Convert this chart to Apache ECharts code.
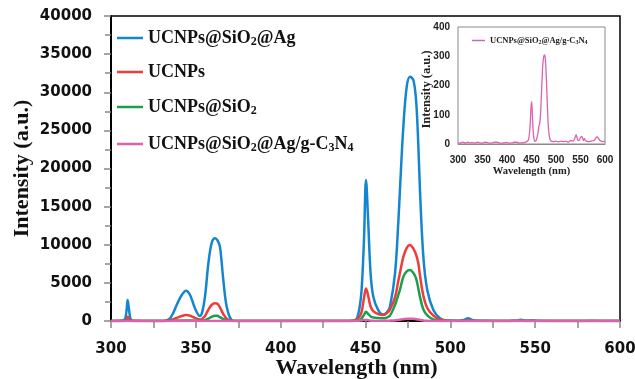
<!DOCTYPE html>
<html>
<head>
<meta charset="utf-8">
<script src="https://cdn.jsdelivr.net/npm/echarts@6/dist/echarts.min.js"></script>
<style>html,body{margin:0;padding:0;background:#fff;}#c{width:635px;height:379px;}</style>
</head>
<body>
<div id="c"></div>
<script>
// ---- data ----
const seriesNames = ['UCNPs@SiO2@Ag', 'UCNPs', 'UCNPs@SiO2', 'UCNPs@SiO2@Ag/g-C3N4'];
const seriesColors = ['#1486d0', '#ef3b3b', '#1c9e4e', '#dd62ad'];

const wavelength = [300,304,306.5,308.3,309.2,309.8,310.5,311.5,313,320,331,333,334.8,336.8,338.7,341.7,344.2,346.6,349.5,352.4,353.8,355.4,357.4,359.3,361.3,362.7,364.2,366.2,368.2,371.1,374,440,442.5,444.8,446.5,447.7,449.1,450.3,451.5,453,454.6,457.5,460.5,462.5,464.4,467.4,469.3,470.3,472.3,474.3,476.2,478.2,479.8,481.1,482.1,484.1,486.4,490,493.9,498,505,508,510.5,513,518,535,539,541.5,545,549,553,600];
const agValues = [0,0,60,250,1500,2750,1700,300,20,0,0,100,350,1100,2100,3410,3980,3410,1660,650,1200,3190,7570,10190,10850,10600,9750,5380,1880,130,0,0,40,300,1800,4070,10620,18500,13500,6250,3190,1440,850,1100,1880,6250,12800,17180,25480,30730,32040,31600,28980,23300,17180,8430,4070,1440,350,50,30,150,350,150,20,0,80,150,60,100,0,0];
const ucnpValues = [0,0,10,60,300,560,350,60,0,0,0,20,100,250,400,650,790,700,400,200,300,650,1500,2100,2320,2250,1800,900,300,30,0,0,20,200,600,1200,3000,4250,3400,1900,1300,900,780,1000,1500,3100,5200,6300,8400,9600,9970,9500,8700,7600,6000,3300,1700,700,200,30,10,30,60,20,0,0,0,20,0,0,0,0];
const sio2Values = [0,0,0,10,50,100,60,10,0,0,0,0,10,30,50,70,80,70,40,30,60,120,300,550,700,680,500,250,80,10,0,0,10,50,150,350,800,1200,950,600,450,380,350,450,700,2100,3400,4100,5800,6500,6690,6300,5600,4300,3200,1500,750,200,30,0,0,0,10,0,0,0,0,0,0,0,0,0];

const gcnWavelength = [300,305,310,315,320,325,330,335,340,345,350,355,360,365,370,375,380,385,390,395,400,405,410,415,420,425,430,435,440,444,447,449,450.5,452,454,456,458,460,463,465,467,469,471,473,475,476.5,478,480,482,484,486,488,490,495,500,505,510,515,520,525,530,535,538,541,544,547,550,553,556,558,561,566,572,578,581,584,587,590,595,600];
const gcnValues = [5,3,6,3,6,4,5,3,6,4,3,6,5,3,4,6,6,3,3,5,5,3,4,6,6,3,4,5,8,15,60,125,145,90,30,12,9,15,35,60,72,120,200,270,300,305,295,240,150,70,30,15,10,8,10,7,10,8,10,6,12,10,18,32,15,12,22,26,12,18,10,8,10,12,20,24,18,12,8,10];

const mainX = {min: 300, max: 600, interval: 50};
const mainY = {min: 0, max: 40000, interval: 5000};
const insetX = {min: 300, max: 600, interval: 50};
const insetY = {min: 0, max: 400, interval: 100};

// ---- helpers ----
function pairs(xs, ys) { return xs.map((x, i) => [x, ys[i]]); }
function richName(name) {
  return name.split(/(\d)/).filter(s => s.length).map(s => /\d/.test(s) ? '{s|' + s + '}' : '{n|' + s + '}').join('');
}
const serif = '"Liberation Serif", "Times New Roman", serif';
const sans = '"DejaVu Sans", Verdana, sans-serif';
const narrow = '"Liberation Sans Narrow", "Arial Narrow", "Liberation Sans", sans-serif';

const mainLegendTops = [29, 63, 98, 135];
const mainLegends = seriesNames.map((nm, i) => ({
  data: [nm], orient: 'vertical', left: 117, top: mainLegendTops[i], padding: 0,
  icon: 'rect', itemWidth: 26, itemHeight: 2.5, itemGap: 4, itemStyle: {borderWidth: 0},
  formatter: richName, selectedMode: false,
  textStyle: {
    rich: {
      n: {fontFamily: serif, fontWeight: 'bold', fontSize: 18, lineHeight: 20, color: '#111'},
      s: {fontFamily: serif, fontWeight: 'bold', fontSize: 12, lineHeight: 9, verticalAlign: 'bottom', color: '#111'}
    }
  }
}));

const chart = echarts.init(document.getElementById('c'), null, {renderer: 'canvas'});
const option = {
  animation: false,
  backgroundColor: '#fff',
  grid: [
    {left: 111, top: 16, width: 509, height: 305, outerBoundsMode: 'none', containLabel: false, show: true, borderColor: '#000', borderWidth: 1.5, backgroundColor: 'transparent'},
    {left: 458, top: 27, width: 147, height: 117, outerBoundsMode: 'none', containLabel: false, show: true, borderColor: '#8a8a8a', borderWidth: 1, backgroundColor: '#fff', z: 5}
  ],
  legend: mainLegends.concat([
    {
      data: [seriesNames[3]], orient: 'vertical', left: 472, top: 36, padding: 0, z: 10,
      icon: 'rect', itemWidth: 13, itemHeight: 1.5, itemGap: 2, itemStyle: {borderWidth: 0},
      formatter: richName, selectedMode: false,
      textStyle: {
        rich: {
          n: {fontFamily: serif, fontWeight: 'bold', fontSize: 8.5, lineHeight: 10, color: '#222'},
          s: {fontFamily: serif, fontWeight: 'bold', fontSize: 6, lineHeight: 4, verticalAlign: 'bottom', color: '#222'}
        }
      }
    }
  ]),
  xAxis: [
    {
      type: 'value', gridIndex: 0, min: mainX.min, max: mainX.max, interval: mainX.interval,
      name: 'Wavelength (nm)', nameLocation: 'middle', nameGap: 36, nameMoveOverlap: false,
      nameTextStyle: {fontFamily: serif, fontWeight: 'bold', fontSize: 22, color: '#111', padding: [0, 18, 0, 0]},
      axisLine: {show: true, lineStyle: {color: '#000', width: 2}},
      axisTick: {show: true, length: 7, lineStyle: {color: '#888', width: 1.5}},
      minorTick: {show: true, splitNumber: 2, length: 7, lineStyle: {color: '#888', width: 1.5}},
      splitLine: {show: false},
      axisLabel: {margin: 21, fontFamily: sans, fontWeight: 'bold', fontSize: 15, color: '#111', formatter: v => String(v)}
    },
    {
      type: 'value', gridIndex: 1, min: insetX.min, max: insetX.max, interval: insetX.interval,
      name: 'Wavelength (nm)', nameLocation: 'middle', nameGap: 22, nameMoveOverlap: false,
      nameTextStyle: {fontFamily: serif, fontWeight: 'bold', fontSize: 10.5, color: '#222'},
      axisLine: {show: true, lineStyle: {color: '#8a8a8a', width: 1}},
      axisTick: {show: false},
      splitLine: {show: false},
      axisLabel: {margin: 11, fontFamily: narrow, fontWeight: 'bold', fontSize: 10, color: '#222', formatter: v => String(v)}
    }
  ],
  yAxis: [
    {
      type: 'value', gridIndex: 0, min: mainY.min, max: mainY.max, interval: mainY.interval,
      name: 'Intensity (a.u.)', nameLocation: 'middle', nameGap: 78, nameRotate: 90, nameMoveOverlap: false,
      nameTextStyle: {fontFamily: serif, fontWeight: 'bold', fontSize: 22, color: '#111'},
      axisLine: {show: true, lineStyle: {color: '#000', width: 2}},
      axisTick: {show: true, length: 7, lineStyle: {color: '#888', width: 1.5}},
      minorTick: {show: true, splitNumber: 2, length: 6, lineStyle: {color: '#888', width: 1.5}},
      splitLine: {show: false},
      axisLabel: {margin: 19, fontFamily: sans, fontWeight: 'bold', fontSize: 15, color: '#111', formatter: v => String(v)}
    },
    {
      type: 'value', gridIndex: 1, min: insetY.min, max: insetY.max, interval: insetY.interval,
      name: 'Intensity (a.u.)', nameLocation: 'middle', nameGap: 25, nameRotate: 90, nameMoveOverlap: false,
      nameTextStyle: {fontFamily: serif, fontWeight: 'bold', fontSize: 12.5, color: '#222', padding: [0, 8, 0, 0]},
      axisLine: {show: true, lineStyle: {color: '#8a8a8a', width: 1}},
      axisTick: {show: false},
      splitLine: {show: false},
      axisLabel: {margin: 8, fontFamily: narrow, fontWeight: 'bold', fontSize: 10, color: '#222', formatter: v => String(v)}
    }
  ],
  series: [
    {name: seriesNames[0], type: 'line', xAxisIndex: 0, yAxisIndex: 0, data: pairs(wavelength, agValues), showSymbol: false, smooth: 0.35, color: seriesColors[0], lineStyle: {width: 2.5}},
    {name: seriesNames[1], type: 'line', xAxisIndex: 0, yAxisIndex: 0, data: pairs(wavelength, ucnpValues), showSymbol: false, smooth: 0.35, color: seriesColors[1], lineStyle: {width: 2.5}},
    {name: seriesNames[2], type: 'line', xAxisIndex: 0, yAxisIndex: 0, data: pairs(wavelength, sio2Values), showSymbol: false, smooth: 0.35, color: seriesColors[2], lineStyle: {width: 2.5}},
    {name: seriesNames[3], type: 'line', xAxisIndex: 0, yAxisIndex: 0, data: pairs(gcnWavelength, gcnValues), showSymbol: false, smooth: 0.3, color: seriesColors[3], lineStyle: {width: 2.5}},
    {name: seriesNames[3], type: 'line', xAxisIndex: 1, yAxisIndex: 1, data: pairs(gcnWavelength, gcnValues), showSymbol: false, smooth: 0.25, color: seriesColors[3], lineStyle: {width: 1.3}, z: 10}
  ]
};
chart.setOption(option);
</script>
</body>
</html>
